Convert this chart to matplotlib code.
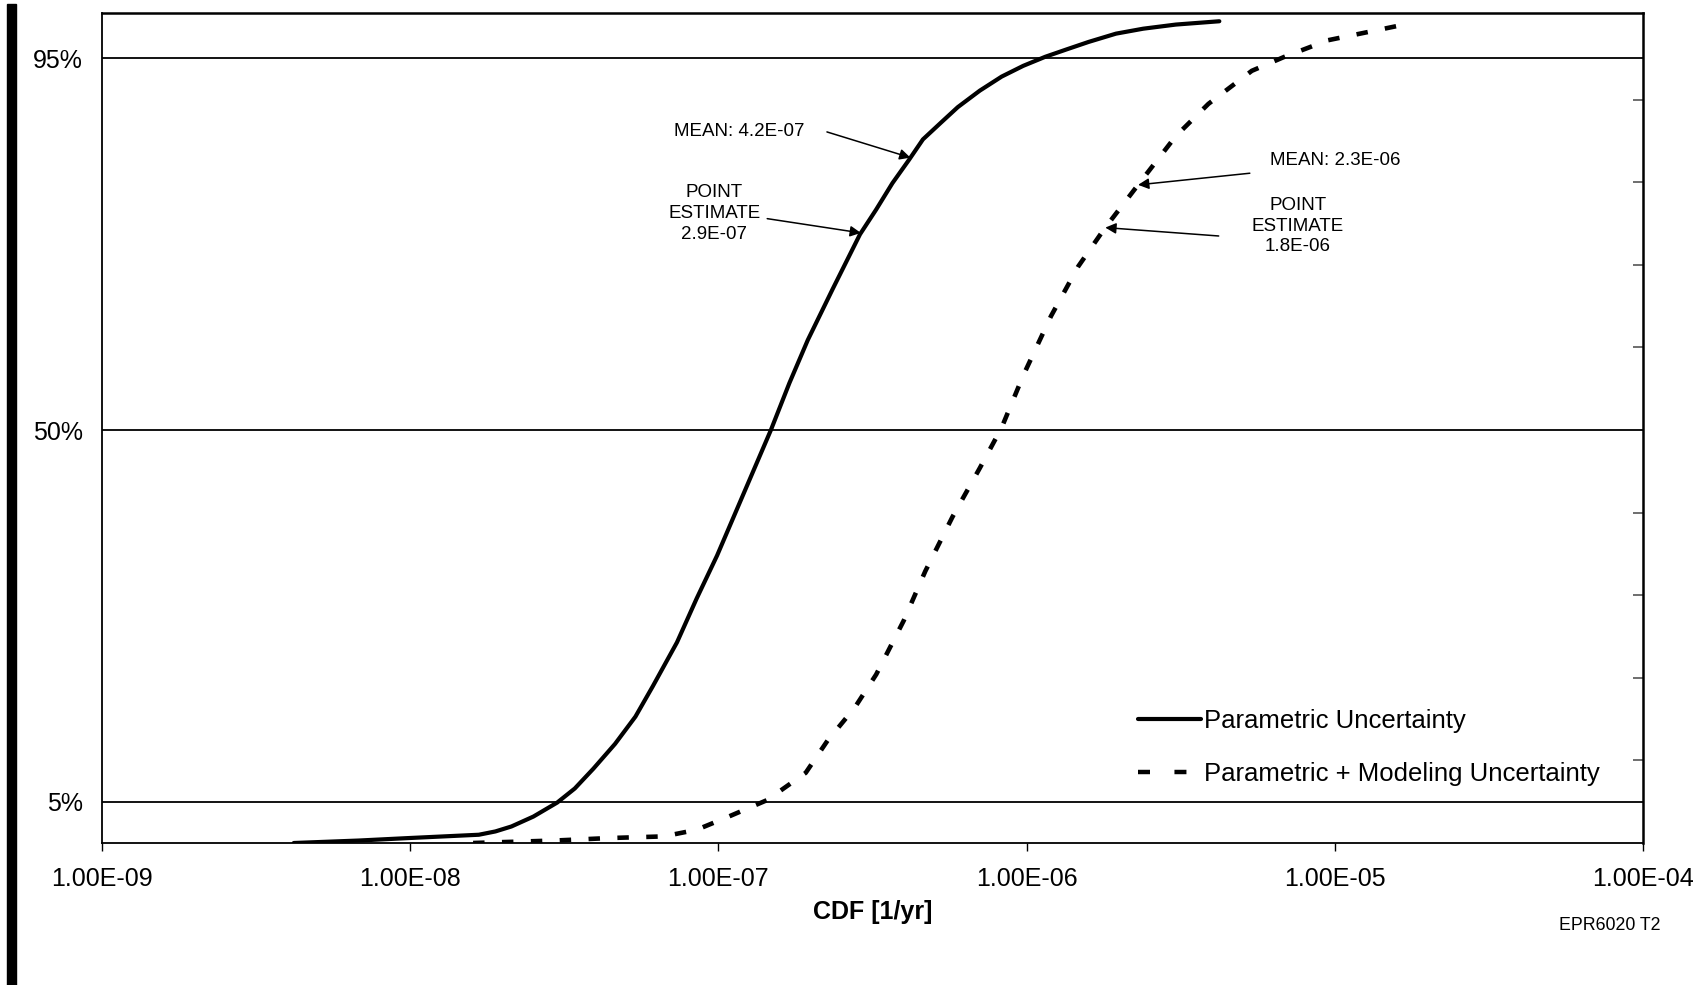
import numpy as np
import matplotlib
matplotlib.use("Agg")
import matplotlib.pyplot as plt
from matplotlib.lines import Line2D
from matplotlib.patches import Rectangle
from matplotlib.ticker import FixedLocator, NullLocator

plt.rcParams['font.family'] = ['Liberation Sans', 'DejaVu Sans']

# Cumulative distribution of core damage frequency
param_x = [4.19e-9, 6.82e-9, 9.9e-9, 1.67e-8, 1.89e-8, 2.13e-8, 2.51e-8, 3.0e-8,
           3.42e-8, 3.93e-8, 4.62e-8, 5.38e-8, 6.13e-8, 7.34e-8, 8.5e-8, 9.9e-8,
           1.22e-7, 1.48e-7, 1.70e-7, 1.95e-7, 2.35e-7, 2.88e-7, 3.25e-7, 3.67e-7,
           4.15e-7, 4.61e-7, 5.3e-7, 5.98e-7, 7.05e-7, 8.3e-7, 9.75e-7, 1.15e-6,
           1.35e-6, 1.59e-6, 1.95e-6, 2.39e-6, 3.05e-6, 4.22e-6]
param_y = [0.0, 0.003, 0.006, 0.010, 0.014, 0.020, 0.032, 0.049,
           0.066, 0.090, 0.120, 0.153, 0.190, 0.243, 0.296, 0.348,
           0.427, 0.500, 0.557, 0.609, 0.671, 0.737, 0.767, 0.799,
           0.827, 0.852, 0.873, 0.891, 0.911, 0.928, 0.941, 0.952,
           0.961, 0.970, 0.980, 0.986, 0.991, 0.995]

model_x = [1.6e-8, 2.95e-8, 4.43e-8, 6.65e-8, 8.5e-8, 1.08e-7, 1.44e-7, 1.92e-7,
           2.26e-7, 2.77e-7, 3.25e-7, 3.99e-7, 4.69e-7, 5.75e-7, 7.05e-7, 8.3e-7,
           9.75e-7, 1.2e-6, 1.47e-6, 1.79e-6, 2.29e-6, 3.05e-6, 3.89e-6, 5.38e-6,
           6.87e-6, 9.5e-6, 1.68e-5]
model_y = [0.0, 0.003, 0.006, 0.008, 0.016, 0.032, 0.052, 0.085,
           0.124, 0.164, 0.204, 0.269, 0.329, 0.395, 0.454, 0.503,
           0.566, 0.638, 0.698, 0.744, 0.796, 0.856, 0.895, 0.935,
           0.952, 0.972, 0.991]

series_labels = ["Parametric Uncertainty", "Parametric + Modeling Uncertainty"]

param_mean = 4.2e-7
param_point = 2.9e-7
model_mean = 2.3e-6
model_point = 1.8e-6

x_ticks = [1e-9, 1e-8, 1e-7, 1e-6, 1e-5, 1e-4]
x_tick_labels = ["1.00E-09", "1.00E-08", "1.00E-07", "1.00E-06", "1.00E-05", "1.00E-04"]
y_ticks = [0.05, 0.50, 0.95]
y_tick_labels = ["5%", "50%", "95%"]
y_minor = [0.1, 0.2, 0.3, 0.4, 0.5, 0.6, 0.7, 0.8, 0.9]


def curve_y(xs, ys, x):
    return float(np.interp(np.log10(x), np.log10(xs), ys))


fig = plt.figure(figsize=(17.06, 9.85), dpi=100)
ax = fig.add_axes([102 / 1706, 1 - 843 / 985, (1643 - 102) / 1706, (843 - 13) / 985])

ax.plot(param_x, param_y, color='black', lw=3.0, solid_capstyle='round',
        solid_joinstyle='round', zorder=3)
ax.plot(model_x, model_y, color='black', lw=3.3, linestyle=(0, (2.5, 3.8)),
        dash_capstyle='butt', zorder=3)

ax.set_xscale('log')
ax.set_xlim(1e-9, 1e-4)
ax.set_ylim(0, 1.005)

ax.xaxis.set_major_locator(FixedLocator(x_ticks))
ax.xaxis.set_minor_locator(NullLocator())
ax.set_xticklabels(x_tick_labels)
ax.set_yticks(y_ticks)
ax.set_yticklabels(y_tick_labels)
ax.yaxis.set_minor_locator(FixedLocator(y_minor))

ax.tick_params(axis='x', which='major', direction='out', length=6, width=1,
               labelsize=18, pad=11)
ax.tick_params(axis='y', which='major', length=0, labelsize=18, pad=14)
ax.tick_params(axis='y', which='minor', left=False, right=True, direction='in',
               length=7, width=1.2, color='#555555')

ax.yaxis.grid(True, which='major', color='black', lw=1.3)
ax.set_axisbelow(True)

for side in ['left', 'bottom']:
    ax.spines[side].set_linewidth(1.3)
for side in ['top', 'right']:
    ax.spines[side].set_linewidth(1.8)

ax.set_xlabel("CDF [1/yr]", fontsize=18, fontweight='bold', labelpad=7)

# Annotations for mean and point estimate values
ann_fs = 13.5
arrow = dict(arrowstyle='-|>', color='black', lw=1.1, mutation_scale=16,
             shrinkA=0, shrinkB=0)

ax.text(1.17e-7, 0.862, f"MEAN: {param_mean:.1E}", ha='center', va='center',
        fontsize=ann_fs)
ax.annotate('', xy=(param_mean, curve_y(param_x, param_y, param_mean)),
            xytext=(2.25e-7, 0.861), arrowprops=arrow)

ax.text(9.7e-8, 0.762, f"POINT\nESTIMATE\n{param_point:.1E}", ha='center',
        va='center', fontsize=ann_fs, linespacing=1.3)
ax.annotate('', xy=(param_point, curve_y(param_x, param_y, param_point)),
            xytext=(1.44e-7, 0.756), arrowprops=arrow)

ax.text(1.0e-5, 0.827, f"MEAN: {model_mean:.1E}", ha='center', va='center',
        fontsize=ann_fs)
ax.annotate('', xy=(model_mean, curve_y(model_x, model_y, model_mean)),
            xytext=(5.3e-6, 0.811), arrowprops=arrow)

ax.text(7.6e-6, 0.747, f"POINT\nESTIMATE\n{model_point:.1E}", ha='center',
        va='center', fontsize=ann_fs, linespacing=1.3)
ax.annotate('', xy=(model_point, curve_y(model_x, model_y, model_point)),
            xytext=(4.2e-6, 0.735), arrowprops=arrow)

# Legend
handles = [
    Line2D([], [], color='black', lw=3.0, solid_capstyle='round'),
    Line2D([], [], color='black', lw=3.2, linestyle=(0, (2.7, 5.5)),
           dash_capstyle='butt'),
]
ax.legend(handles, series_labels, loc='center left',
          bbox_to_anchor=(1138 / 1706, 1 - 747.5 / 985),
          bbox_transform=fig.transFigure, frameon=False, fontsize=18.5,
          handlelength=2.45, handletextpad=0.12, labelspacing=1.15,
          borderpad=0, borderaxespad=0)

fig.text(1610 / 1706, 1 - 926 / 985, "EPR6020 T2", ha='center', va='center',
         fontsize=12.8)

# Vertical rule along the left margin
fig.patches.append(Rectangle((7 / 1706, 0), 9 / 1706, (985 - 4) / 985,
                             transform=fig.transFigure, color='black', zorder=5))

fig.savefig("out.png", dpi=100)
